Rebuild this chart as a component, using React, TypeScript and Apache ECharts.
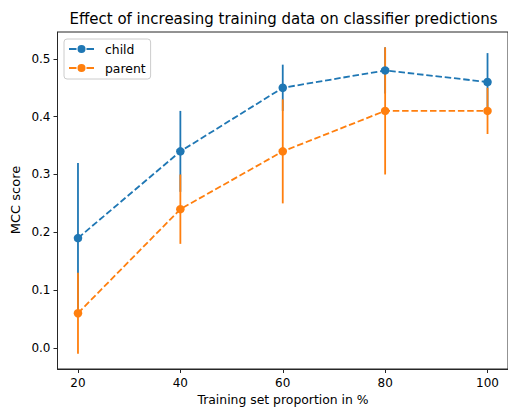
import React, { useEffect, useRef } from "react";
import * as echarts from "echarts";

const proportions = [20, 40, 60, 80, 100];
const childMcc = [0.19, 0.34, 0.45, 0.48, 0.46];
const childErr = [0.13, 0.07, 0.04, 0.04, 0.05];
const parentMcc = [0.06, 0.24, 0.34, 0.41, 0.41];
const parentErr = [0.07, 0.06, 0.09, 0.11, 0.04];
const xTicks = [20, 40, 60, 80, 100];
const yTicks = [0, 0.1, 0.2, 0.3, 0.4, 0.5];

const BLUE = "#1f77b4";
const ORANGE = "#ff7f0e";
const FONT = "DejaVu Sans";
const LW = 1.8;

const LEGEND_ICON =
  "path://M0,3.1h7.5v1.8H0Z M17.5,3.1h7.5v1.8h-7.5Z M12.5,0A4,4 0 1 1 12.5,8A4,4 0 1 1 12.5,0Z";

function errData(vals: number[], errs: number[]) {
  return proportions.map((x, i) => [x, vals[i] - errs[i], vals[i] + errs[i]]);
}

function errSeries(name: string, vals: number[], errs: number[], color: string, z: number) {
  return {
    type: "custom",
    name: name + "_err",
    z,
    silent: true,
    data: errData(vals, errs),
    encode: { x: 0, y: [1, 2] },
    renderItem: (params: any, api: any) => {
      const x = api.value(0);
      const p1 = api.coord([x, api.value(1)]);
      const p2 = api.coord([x, api.value(2)]);
      return {
        type: "line",
        shape: { x1: p1[0], y1: p1[1], x2: p2[0], y2: p2[1] },
        style: { stroke: color, lineWidth: LW },
      };
    },
  };
}

function lineSeries(name: string, vals: number[], color: string, z: number) {
  return {
    type: "line",
    name,
    z,
    data: proportions.map((x, i) => [x, vals[i]]),
    symbol: "circle",
    symbolSize: 8.5,
    showSymbol: true,
    itemStyle: { color },
    lineStyle: { color, width: LW, type: [6.5, 2.8] },
  };
}

export default function App() {
  const ref = useRef<HTMLDivElement>(null);
  useEffect(() => {
    if (!ref.current) return;
    const chart = echarts.init(ref.current, undefined, { renderer: "svg" });
    const axisColor = "#262626";
    chart.setOption({
      animation: false,
      backgroundColor: "#fff",
      grid: {
        left: 57.5,
        top: 32,
        width: 452,
        height: 337,
        show: true,
        borderColor: axisColor,
        borderWidth: 1,
        backgroundColor: "transparent",
      },
      xAxis: {
        type: "value",
        min: 16,
        max: 104,
        axisLine: { show: true, onZero: false, lineStyle: { color: axisColor, width: 1 } },
        axisTick: { show: true, customValues: xTicks, length: 4, lineStyle: { color: axisColor } },
        axisLabel: {
          customValues: xTicks,
          color: "#000",
          fontSize: 12,
          fontFamily: FONT,
          margin: 8,
        },
        splitLine: { show: false },
      },
      yAxis: {
        type: "value",
        min: -0.0365,
        max: 0.5465,
        axisLine: { show: true, onZero: false, lineStyle: { color: axisColor, width: 1 } },
        axisTick: { show: true, customValues: yTicks, length: 4, lineStyle: { color: axisColor } },
        axisLabel: {
          customValues: yTicks,
          color: "#000",
          fontSize: 12,
          fontFamily: FONT,
          margin: 7,
          formatter: (v: number) => v.toFixed(1),
        },
        splitLine: { show: false },
      },
      legend: {
        data: [
          { name: "child", icon: LEGEND_ICON },
          { name: "parent", icon: LEGEND_ICON },
        ],
        orient: "vertical",
        left: 64,
        top: 39,
        padding: [3, 5, 4, 5],
        itemGap: 5,
        itemWidth: 25,
        itemHeight: 8,
        borderColor: "#ccc",
        borderWidth: 1,
        borderRadius: 3,
        backgroundColor: "rgba(255,255,255,0.8)",
        textStyle: {
          color: "#000",
          fontSize: 12.4,
          fontFamily: FONT,
          lineHeight: 14,
          padding: [0, 0, 0, 6],
        },
      },
      graphic: [
        {
          type: "text",
          x: 283.5,
          y: 19,
          style: {
            text: "Effect of increasing training data on classifier predictions",
            fill: "#000",
            fontSize: 15,
            fontFamily: FONT,
            textAlign: "center",
            textVerticalAlign: "middle",
          },
        },
        {
          type: "text",
          x: 283,
          y: 399,
          style: {
            text: "Training set proportion in %",
            fill: "#000",
            fontSize: 12.4,
            fontFamily: FONT,
            textAlign: "center",
            textVerticalAlign: "middle",
          },
        },
        {
          type: "text",
          x: 15,
          y: 200,
          rotation: Math.PI / 2,
          style: {
            text: "MCC score",
            fill: "#000",
            fontSize: 13,
            fontFamily: FONT,
            textAlign: "center",
            textVerticalAlign: "middle",
          },
        },
      ],
      series: [
        errSeries("child", childMcc, childErr, BLUE, 1),
        errSeries("parent", parentMcc, parentErr, ORANGE, 2),
        lineSeries("child", childMcc, BLUE, 3),
        lineSeries("parent", parentMcc, ORANGE, 4),
      ],
    });
    return () => chart.dispose();
  }, []);
  return (
    <div
      ref={ref}
      style={{ position: "fixed", left: 0, top: 0, width: 508, height: 407 }}
    />
  );
}
